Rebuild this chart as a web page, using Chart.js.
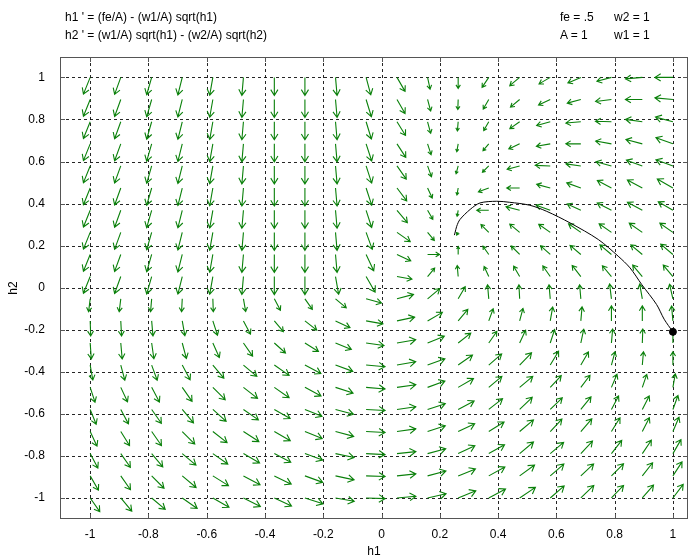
<!DOCTYPE html>
<html>
<head>
    <title>Direction field h1 h2</title>
    <script src="https://cdn.jsdelivr.net/npm/chart.js"></script>
    <style>
        body { margin: 0; background: #fff; }
        #wrap { position: relative; width: 699px; height: 557px; font-family: "Liberation Sans", Arial, sans-serif; font-size: 12px; color: #000; }
        .lbl { position: absolute; white-space: pre; line-height: 14px; }
    </style>
</head>
<body>
<div id="wrap">
    <canvas id="myChart" width="699" height="557"></canvas>
    <div class="lbl" style="left:65px; top:10px;">h1 ' = (fe/A) - (w1/A) sqrt(h1)</div>
    <div class="lbl" style="left:65px; top:28px;">h2 ' = (w1/A) sqrt(h1) - (w2/A) sqrt(h2)</div>
    <div class="lbl" style="left:560px; top:10px;">fe = .5</div>
    <div class="lbl" style="left:614px; top:10px;">w2 = 1</div>
    <div class="lbl" style="left:560px; top:28px;">A = 1</div>
    <div class="lbl" style="left:614px; top:28px;">w1 = 1</div>
</div>
<script>
    // sample points of the direction field (arrow tails)
    const h1Samples = [-1, -0.895, -0.789, -0.684, -0.579, -0.474, -0.368, -0.263, -0.158, -0.053,
                       0.053, 0.158, 0.263, 0.368, 0.474, 0.579, 0.684, 0.789, 0.895, 1];
    const h2Samples = [1, 0.895, 0.789, 0.684, 0.579, 0.474, 0.368, 0.263, 0.158, 0.053,
                       -0.053, -0.158, -0.263, -0.368, -0.474, -0.579, -0.684, -0.789, -0.895, -1];

    // arrow direction on screen, degrees (0 = right, 90 = up), one row per h2 sample
    const arrowAngle = [
        [-112,-110,-106,-104,-100,-95,-90,-90,-85,-75,-60,-78,-90,-124,-140,-150,-157,-165,-175,180],
        [-112,-110,-106,-104,-100,-95,-90,-90,-85,-73,-60,-75,-92,-120,-140,-155,-165,-173,180,175],
        [-112,-110,-106,-104,-100,-95,-90,-90,-85,-73,-58,-75,-95,-120,-145,-165,-175,178,172,165],
        [-112,-110,-106,-104,-100,-95,-90,-90,-85,-72,-57,-72,-100,-130,-155,-170,180,170,165,160],
        [-112,-110,-106,-104,-100,-95,-90,-90,-85,-72,-55,-70,-105,-135,-165,178,172,165,160,160],
        [-112,-110,-106,-104,-100,-95,-90,-90,-85,-72,-53,-65,-100,-160,180,165,160,152,152,150],
        [-112,-110,-106,-104,-100,-95,-90,-90,-85,-72,-50,-60,-100,180,165,160,155,153,152,150],
        [-112,-110,-106,-104,-100,-95,-90,-90,-85,-70,-35,-50,-120,135,140,145,145,145,145,145],
        [-112,-110,-106,-104,-100,-95,-90,-90,-85,-65,-25,0,90,125,135,138,140,140,140,140],
        [-112,-110,-106,-104,-100,-95,-90,-90,-80,-60,-10,50,95,115,120,125,128,130,130,130],
        [-97,-97,-95,-93,-88,-80,-62,-55,-40,-15,15,40,60,95,93,95,95,97,100,103],
        [-88,-87,-85,-80,-72,-62,-50,-38,-25,-10,12,30,50,70,75,80,85,90,90,95],
        [-86,-85,-82,-75,-66,-55,-42,-32,-22,-8,10,22,38,55,65,72,78,85,88,90],
        [-80,-75,-70,-62,-50,-40,-35,-28,-20,-5,10,20,35,41,46,59,60,75,85,90],
        [-72,-65,-62,-55,-45,-38,-35,-28,-18,-5,8,20,30,40,40,47,53,67,71,80],
        [-68,-62,-55,-50,-42,-35,-30,-22,-15,-3,8,18,28,38,44,44,51,62,63,70],
        [-65,-58,-55,-45,-38,-33,-30,-22,-15,-3,8,18,25,32,40,47,49,58,63,67],
        [-62,-55,-50,-40,-35,-30,-28,-20,-12,-3,6,15,25,29,40,40,47,52,56,60],
        [-60,-55,-45,-40,-32,-28,-26,-20,-12,-2,6,15,22,29,36,41,43,45,52,57],
        [-55,-50,-40,-35,-30,-27,-25,-18,-10,-2,5,13,22,28,34,41,44,46,49,53]
    ];

    // relative field strength (arrow length, 1 = longest)
    const fieldStrength = [
        [.95,.95,.95,.95,.95,.95,.95,.95,.95,.95,.85,.63,.58,.63,.68,.68,.74,.79,.89,.95],
        [.95,.95,.95,.95,.95,.95,.95,.95,.95,.95,.85,.63,.53,.58,.63,.68,.74,.84,.89,.95],
        [.95,.95,.95,.95,.95,.95,.95,.95,.95,.95,.85,.63,.48,.53,.63,.74,.79,.84,.89,.95],
        [.95,.95,.95,.95,.95,.95,.95,.95,.95,.95,.85,.60,.42,.47,.63,.74,.79,.84,.89,.95],
        [.95,.95,.95,.95,.95,.95,.95,.95,.95,.95,.85,.60,.42,.47,.68,.79,.79,.84,.89,.95],
        [.95,.95,.95,.95,.95,.95,.95,.95,.95,.95,.85,.58,.37,.58,.68,.74,.79,.84,.89,.95],
        [.95,.95,.95,.95,.95,.95,.95,.95,.95,.95,.85,.55,.32,.63,.74,.79,.79,.84,.89,.89],
        [.95,.95,.95,.95,.95,.95,.95,.95,.95,.95,.85,.55,.16,.58,.68,.74,.79,.79,.84,.84],
        [.95,.95,.95,.95,.95,.95,.95,.95,.95,.95,.80,.63,.42,.53,.63,.68,.74,.79,.79,.84],
        [.95,.95,.95,.95,.95,.95,.95,.95,.95,.95,.80,.58,.58,.58,.63,.68,.74,.74,.79,.79],
        [.68,.68,.68,.68,.68,.68,.68,.68,.74,.84,.90,.84,.74,.74,.74,.74,.74,.79,.79,.79],
        [.79,.79,.79,.79,.79,.79,.74,.79,.84,.90,.95,.90,.79,.68,.68,.74,.74,.79,.79,.79],
        [.84,.84,.84,.84,.84,.84,.79,.84,.90,.95,1,.95,.84,.74,.74,.74,.74,.74,.74,.74],
        [.80,.82,.85,.88,.90,.92,.95,.95,.97,1,1,.97,.92,.90,.90,.85,.80,.72,.70,.70],
        [.82,.84,.87,.90,.92,.94,.95,.96,.97,1,1,.97,.93,.90,.90,.85,.80,.75,.72,.72],
        [.84,.86,.89,.92,.94,.96,.96,.97,.98,1,1,.98,.95,.92,.92,.88,.85,.80,.80,.78],
        [.85,.87,.90,.93,.95,.97,.97,.98,.99,1,1,.98,.96,.95,.95,.90,.88,.85,.82,.82],
        [.86,.88,.91,.94,.96,.98,.98,.99,1,1,1,.99,.97,.95,.95,.92,.90,.88,.85,.85],
        [.87,.89,.92,.95,.97,.99,.99,1,1,1,1,1,.98,.97,.97,.95,.92,.90,.88,.88],
        [.88,.90,.93,.96,.98,1,1,1,1,1,1,1,1,1,1,.97,.95,.92,.90,.90]
    ];

    // solution curve from the starting point (1, -0.21) to the equilibrium
    const trajH1 = [1.0, 0.97, 0.944, 0.893, 0.853, 0.812, 0.744, 0.647, 0.567, 0.509, 0.44, 0.395, 0.338, 0.304, 0.269, 0.258, 0.252, 0.25];
    const trajH2 = [-0.21, -0.15, -0.08, 0.015, 0.094, 0.15, 0.229, 0.308, 0.363, 0.392, 0.406, 0.411, 0.403, 0.372, 0.324, 0.292, 0.26, 0.25];
    const startPoint = { h1: 1.0, h2: -0.21 };

    const tickValues = [-1, -0.8, -0.6, -0.4, -0.2, 0, 0.2, 0.4, 0.6, 0.8, 1];

    const fieldPoints = [];
    h2Samples.forEach((h2, j) => {
        h1Samples.forEach((h1, i) => {
            fieldPoints.push({ x: h1, y: h2, angle: arrowAngle[j][i], strength: fieldStrength[j][i] });
        });
    });

    const ARROW_MAX = 19;

    const framePlugin = {
        id: 'frame',
        beforeDatasetsDraw(chart) {
            const { ctx, chartArea: a, scales } = chart;
            ctx.save();
            ctx.strokeStyle = 'rgba(0,0,0,0.85)';
            ctx.lineWidth = 1;
            ctx.setLineDash([3, 3]);
            tickValues.forEach(v => {
                const px = Math.round(scales.x.getPixelForValue(v)) + 0.5;
                ctx.beginPath(); ctx.moveTo(px, a.top); ctx.lineTo(px, a.bottom); ctx.stroke();
                const py = Math.round(scales.y.getPixelForValue(v)) + 0.5;
                ctx.beginPath(); ctx.moveTo(a.left, py); ctx.lineTo(a.right, py); ctx.stroke();
            });
            ctx.restore();
        },
        afterDatasetDraw(chart, args) {
            if (args.index !== 0) return;
            const { ctx } = chart;
            const meta = args.meta;
            ctx.save();
            ctx.strokeStyle = '#0a800a';
            ctx.lineWidth = 1.1;
            meta.data.forEach((el, k) => {
                const p = fieldPoints[k];
                const len = p.strength * ARROW_MAX;
                const t = p.angle * Math.PI / 180;
                const x0 = el.x, y0 = el.y;
                const x1 = x0 + len * Math.cos(t), y1 = y0 - len * Math.sin(t);
                const hl = Math.max(3, len * 0.38);
                const back = Math.atan2(y0 - y1, x0 - x1);
                ctx.beginPath();
                ctx.moveTo(x0, y0); ctx.lineTo(x1, y1);
                ctx.moveTo(x1 + hl * Math.cos(back + 0.55), y1 + hl * Math.sin(back + 0.55));
                ctx.lineTo(x1, y1);
                ctx.lineTo(x1 + hl * Math.cos(back - 0.55), y1 + hl * Math.sin(back - 0.55));
                ctx.stroke();
            });
            ctx.restore();
        },
        afterDraw(chart) {
            const { ctx, chartArea: a, scales } = chart;
            ctx.save();
            ctx.strokeStyle = '#555';
            ctx.lineWidth = 1;
            ctx.strokeRect(a.left + 0.5, a.top + 0.5, a.right - a.left - 1, a.bottom - a.top - 1);
            ctx.beginPath();
            tickValues.forEach(v => {
                const px = Math.round(scales.x.getPixelForValue(v)) + 0.5;
                ctx.moveTo(px, a.bottom); ctx.lineTo(px, a.bottom - 5);
                ctx.moveTo(px, a.top); ctx.lineTo(px, a.top + 5);
                const py = Math.round(scales.y.getPixelForValue(v)) + 0.5;
                ctx.moveTo(a.left, py); ctx.lineTo(a.left + 5, py);
                ctx.moveTo(a.right, py); ctx.lineTo(a.right - 5, py);
            });
            ctx.stroke();
            ctx.restore();
        }
    };

    const font = { family: '"Liberation Sans", Arial, sans-serif', size: 12 };

    const ctx = document.getElementById('myChart').getContext('2d');
    const myChart = new Chart(ctx, {
        type: 'scatter',
        data: {
            datasets: [
                {
                    label: 'field',
                    data: fieldPoints,
                    pointRadius: 0,
                    order: 3
                },
                {
                    label: 'solution',
                    data: trajH1.map((h1, k) => ({ x: h1, y: trajH2[k] })),
                    showLine: true,
                    borderColor: '#000',
                    borderWidth: 1,
                    pointRadius: 0,
                    tension: 0.3,
                    order: 2
                },
                {
                    label: 'start',
                    data: [{ x: startPoint.h1, y: startPoint.h2 }],
                    pointRadius: 3.5,
                    backgroundColor: '#000',
                    borderColor: '#000',
                    order: 1
                }
            ]
        },
        options: {
            responsive: false,
            animation: false,
            layout: { padding: { left: 0, right: 11, top: 57, bottom: 0 } },
            plugins: { legend: { display: false }, tooltip: { enabled: false } },
            scales: {
                x: {
                    min: -1.1036,
                    max: 1.0518,
                    grid: { display: false },
                    border: { display: false },
                    afterBuildTicks: s => { s.ticks = tickValues.map(v => ({ value: v })); },
                    afterFit: s => { s.height = 38; },
                    ticks: { color: '#000', font: font, padding: 0, maxRotation: 0, callback: v => String(v) },
                    title: { display: true, text: 'h1', color: '#000', font: font, padding: { top: 0, bottom: -2 } }
                },
                y: {
                    min: -1.1,
                    max: 1.097,
                    grid: { display: false },
                    border: { display: false },
                    afterBuildTicks: s => { s.ticks = tickValues.map(v => ({ value: v })); },
                    afterFit: s => { s.width = 60; },
                    ticks: { color: '#000', font: font, padding: 7, callback: v => String(v) },
                    title: { display: true, text: 'h2', color: '#000', font: font, padding: { top: 6, bottom: 0 } }
                }
            }
        },
        plugins: [framePlugin]
    });
</script>
</body>
</html>
